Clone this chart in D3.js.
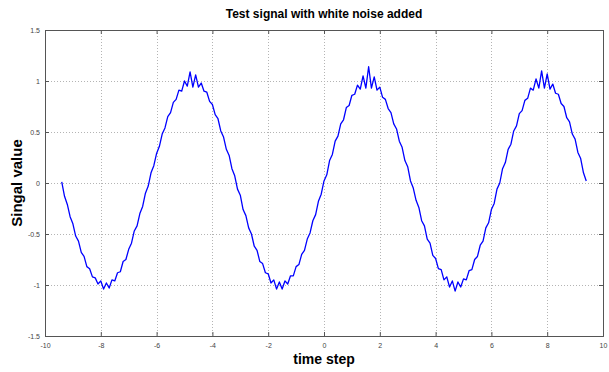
<!DOCTYPE html>
<html>
<head>
<meta charset="utf-8">
<script src="https://cdn.jsdelivr.net/npm/d3@7"></script>
<style>
  body { margin: 0; background: #fff; }
  svg text { font-family: "Liberation Sans", Arial, sans-serif; }
</style>
</head>
<body>
<svg id="chart" width="609" height="372"></svg>
<script>
// time steps
var timeSteps = [
  -9.4, -9.3, -9.2, -9.1, -9.0, -8.9, -8.8, -8.7, -8.6, -8.5,
  -8.4, -8.3, -8.2, -8.1, -8.0, -7.9, -7.8, -7.7, -7.6, -7.5,
  -7.4, -7.3, -7.2, -7.1, -7.0, -6.9, -6.8, -6.7, -6.6, -6.5,
  -6.4, -6.3, -6.2, -6.1, -6.0, -5.9, -5.8, -5.7, -5.6, -5.5,
  -5.4, -5.3, -5.2, -5.1, -5.0, -4.9, -4.8, -4.7, -4.6, -4.5,
  -4.4, -4.3, -4.2, -4.1, -4.0, -3.9, -3.8, -3.7, -3.6, -3.5,
  -3.4, -3.3, -3.2, -3.1, -3.0, -2.9, -2.8, -2.7, -2.6, -2.5,
  -2.4, -2.3, -2.2, -2.1, -2.0, -1.9, -1.8, -1.7, -1.6, -1.5,
  -1.4, -1.3, -1.2, -1.1, -1.0, -0.9, -0.8, -0.7, -0.6, -0.5,
  -0.4, -0.3, -0.2, -0.1, 0.0, 0.1, 0.2, 0.3, 0.4, 0.5,
  0.6, 0.7, 0.8, 0.9, 1.0, 1.1, 1.2, 1.3, 1.4, 1.5,
  1.6, 1.7, 1.8, 1.9, 2.0, 2.1, 2.2, 2.3, 2.4, 2.5,
  2.6, 2.7, 2.8, 2.9, 3.0, 3.1, 3.2, 3.3, 3.4, 3.5,
  3.6, 3.7, 3.8, 3.9, 4.0, 4.1, 4.2, 4.3, 4.4, 4.5,
  4.6, 4.7, 4.8, 4.9, 5.0, 5.1, 5.2, 5.3, 5.4, 5.5,
  5.6, 5.7, 5.8, 5.9, 6.0, 6.1, 6.2, 6.3, 6.4, 6.5,
  6.6, 6.7, 6.8, 6.9, 7.0, 7.1, 7.2, 7.3, 7.4, 7.5,
  7.6, 7.7, 7.8, 7.9, 8.0, 8.1, 8.2, 8.3, 8.4, 8.5,
  8.6, 8.7, 8.8, 8.9, 9.0, 9.1, 9.2, 9.3, 9.4
];

// noisy signal values, one per time step
var signalValues = [
  0.01, -0.13, -0.21, -0.33, -0.40, -0.52, -0.57, -0.68, -0.72, -0.82,
  -0.84, -0.92, -0.93, -0.99, -0.96, -1.04, -0.98, -1.03, -0.95, -0.96,
  -0.88, -0.87, -0.77, -0.75, -0.65, -0.59, -0.47, -0.42, -0.30, -0.23,
  -0.10, -0.03, 0.10, 0.17, 0.29, 0.36, 0.48, 0.54, 0.65, 0.69,
  0.79, 0.82, 0.91, 0.90, 1.00, 0.95, 1.09, 0.94, 1.06, 0.94,
  0.98, 0.90, 0.89, 0.80, 0.77, 0.67, 0.63, 0.51, 0.45, 0.33,
  0.27, 0.14, 0.07, -0.06, -0.12, -0.26, -0.32, -0.44, -0.50, -0.62,
  -0.66, -0.77, -0.79, -0.88, -0.89, -0.98, -0.95, -1.04, -0.97, -1.04,
  -0.96, -0.99, -0.91, -0.91, -0.82, -0.80, -0.70, -0.66, -0.55, -0.49,
  -0.37, -0.31, -0.18, -0.11, 0.02, 0.08, 0.22, 0.28, 0.41, 0.46,
  0.58, 0.62, 0.74, 0.76, 0.86, 0.87, 0.96, 0.92, 1.05, 0.93,
  1.14, 0.93, 1.04, 0.91, 0.94, 0.84, 0.82, 0.73, 0.69, 0.58,
  0.53, 0.41, 0.35, 0.22, 0.16, 0.02, -0.05, -0.17, -0.24, -0.37,
  -0.42, -0.55, -0.59, -0.71, -0.74, -0.84, -0.85, -0.95, -0.92, -1.02,
  -0.96, -1.06, -0.97, -1.02, -0.94, -0.95, -0.86, -0.85, -0.75, -0.72,
  -0.61, -0.57, -0.44, -0.39, -0.26, -0.20, -0.06, 0.00, 0.14, 0.20,
  0.33, 0.38, 0.51, 0.56, 0.68, 0.71, 0.81, 0.83, 0.93, 0.91,
  1.02, 0.93, 1.10, 0.93, 1.07, 0.92, 0.97, 0.88, 0.87, 0.78,
  0.75, 0.64, 0.60, 0.48, 0.43, 0.30, 0.24, 0.10, 0.02
];

var xTicks = [-10, -8, -6, -4, -2, 0, 2, 4, 6, 8, 10];
var yTicks = [-1.5, -1, -0.5, 0, 0.5, 1, 1.5];

var svg = d3.select("#chart"),
  margin = { top: 30, right: 6, bottom: 36, left: 45 },
  width = +svg.attr("width") - margin.left - margin.right,
  height = +svg.attr("height") - margin.top - margin.bottom;

var x = d3.scaleLinear().domain([-10, 10]).range([0, width]),
  y = d3.scaleLinear().domain([-1.5, 1.5]).range([height, 0]);

var g = svg.append("g")
  .attr("transform", "translate(" + margin.left + "," + margin.top + ")");

// dotted grid
var grid = g.append("g").attr("class", "grid");
grid.selectAll("line.gx")
  .data(xTicks.slice(1, -1))
  .enter().append("line")
  .attr("class", "gx")
  .attr("x1", function(d) { return Math.round(x(d)) + 0.5; })
  .attr("x2", function(d) { return Math.round(x(d)) + 0.5; })
  .attr("y1", 0)
  .attr("y2", height);
grid.selectAll("line.gy")
  .data(yTicks.slice(1, -1))
  .enter().append("line")
  .attr("class", "gy")
  .attr("y1", function(d) { return Math.round(y(d)) + 0.5; })
  .attr("y2", function(d) { return Math.round(y(d)) + 0.5; })
  .attr("x1", 0)
  .attr("x2", width);
grid.selectAll("line")
  .attr("stroke", "#b4b4b4")
  .attr("stroke-width", 1)
  .attr("stroke-dasharray", "1,2");

// axes, ticks pointing inward like matlab
var fmt = function(d) { return String(d); };
g.append("g")
  .attr("transform", "translate(0," + height + ")")
  .call(d3.axisBottom(x).tickValues(xTicks).tickSize(-4).tickPadding(7).tickFormat(fmt));
g.append("g")
  .call(d3.axisTop(x).tickValues(xTicks).tickSize(-4).tickFormat(""));
g.append("g")
  .call(d3.axisLeft(y).tickValues(yTicks).tickSize(-4).tickPadding(5).tickFormat(fmt));
g.append("g")
  .attr("transform", "translate(" + width + ",0)")
  .call(d3.axisRight(y).tickValues(yTicks).tickSize(-4).tickFormat(""));

g.selectAll(".domain, .tick line").attr("stroke", "#555");
g.selectAll(".tick text")
  .style("font-size", "7px")
  .attr("fill", "#444");

// the signal
var line = d3.line()
  .x(function(d, i) { return x(timeSteps[i]); })
  .y(function(d) { return y(d); });

g.append("path")
  .datum(signalValues)
  .attr("fill", "none")
  .attr("stroke", "#0000ff")
  .attr("stroke-width", 1.3)
  .attr("stroke-linejoin", "round")
  .attr("d", line);

// titles
svg.append("text")
  .attr("x", margin.left + width / 2)
  .attr("y", 18)
  .attr("text-anchor", "middle")
  .style("font-size", "12px")
  .style("font-weight", "bold")
  .text("Test signal with white noise added");

svg.append("text")
  .attr("x", margin.left + width / 2)
  .attr("y", 364)
  .attr("text-anchor", "middle")
  .style("font-size", "14px")
  .style("font-weight", "bold")
  .text("time step");

svg.append("text")
  .attr("transform", "translate(22," + (margin.top + height / 2) + ") rotate(-90)")
  .attr("text-anchor", "middle")
  .style("font-size", "15px")
  .style("font-weight", "bold")
  .text("Singal value");
</script>
</body>
</html>
